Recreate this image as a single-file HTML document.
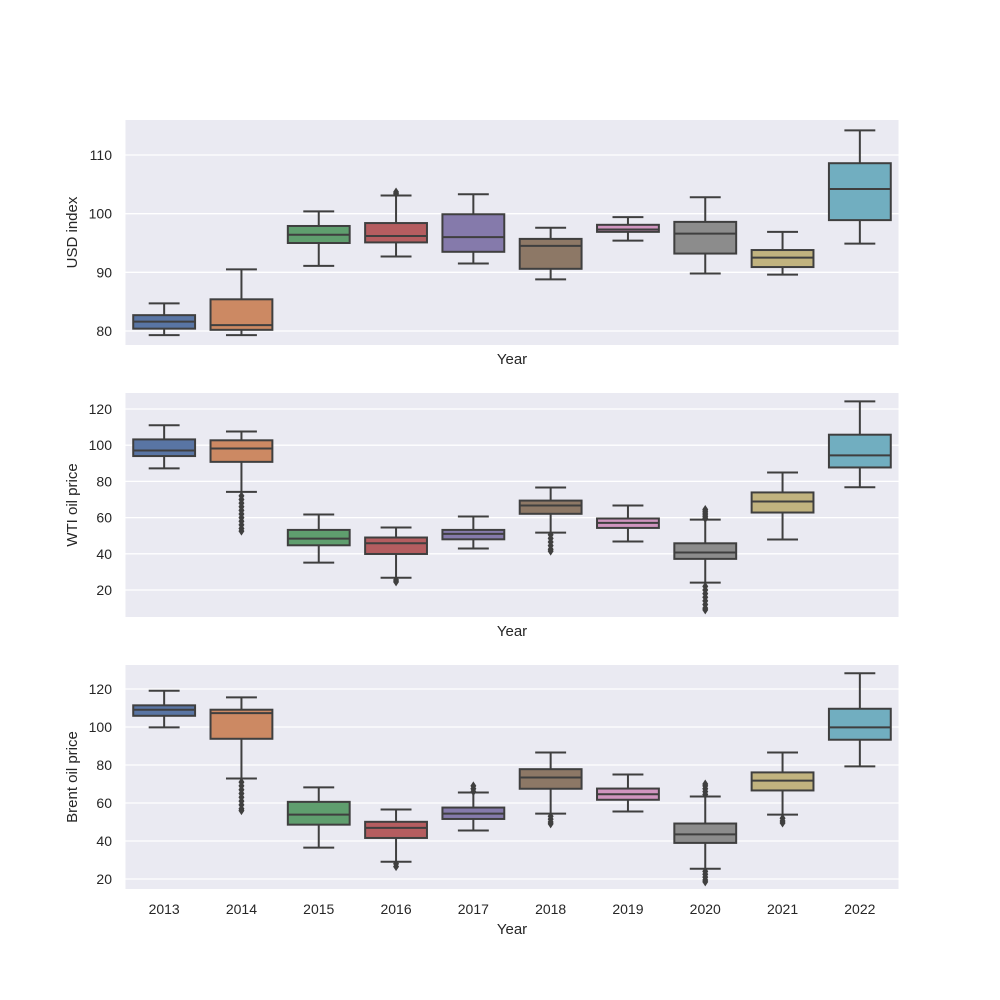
<!DOCTYPE html>
<html><head><meta charset="utf-8"><style>
body{margin:0;background:#fff;}
svg{display:block;font-family:"Liberation Sans",Arial,sans-serif;}
</style></head><body>
<svg id="fig" width="1000" height="1000" viewBox="0 0 1000 1000" xmlns="http://www.w3.org/2000/svg"></svg>
<script>
const categories = ["2013","2014","2015","2016","2017","2018","2019","2020","2021","2022"];
const colors = ["#5975a4","#cc8963","#5f9e6e","#b55d60","#857aab","#8d7866","#d095bf","#8c8c8c","#c1b37f","#71aec0"];
// [low whisker, q1, median, q3, high whisker]
const usdStats = [[79.3,80.4,81.6,82.7,84.7],[79.3,80.2,81.0,85.4,90.5],[91.1,95.0,96.4,97.9,100.4],[92.7,95.1,96.2,98.4,103.1],[91.5,93.5,96.0,99.9,103.3],[88.8,90.6,94.5,95.7,97.6],[95.4,96.9,97.3,98.1,99.4],[89.8,93.2,96.6,98.6,102.8],[89.6,90.9,92.5,93.8,96.9],[94.9,98.9,104.2,108.6,114.2]];
const usdFliers = [[],[],[],[103.4,103.7],[],[],[],[],[],[]];
const wtiStats = [[87.2,94.0,97.1,103.2,111.0],[74.2,90.8,98.2,102.7,107.6],[35.1,44.7,48.4,53.2,61.7],[26.8,39.9,45.8,49.0,54.5],[42.9,48.0,51.0,53.2,60.6],[51.7,62.1,66.7,69.4,76.6],[46.8,54.3,57.1,59.5,66.7],[24.1,37.2,40.7,45.8,58.9],[47.9,62.8,68.9,73.9,84.9],[76.8,87.7,94.4,105.8,124.2]];
const wtiFliers = [[],[72,70,68,66,64,62,60,58,56,54,52.5],[],[25.5,24.5],[],[50.5,48.5,46.5,44.5,42.5,41.5],[],[59.5,60.5,61.5,62.5,63.5,64.5,22,20,18,16,14,12,10,9],[],[]];
const brentStats = [[99.8,105.9,109.1,111.4,119.1],[72.9,93.8,107.3,109.1,115.6],[36.5,48.6,53.9,60.6,68.2],[29.1,41.6,46.9,50.1,56.6],[45.5,51.6,54.4,57.6,65.5],[54.4,67.5,73.4,77.8,86.6],[55.5,61.7,64.6,67.6,75.0],[25.4,39.0,43.5,49.2,63.4],[53.9,66.6,71.8,76.1,86.6],[79.3,93.3,99.8,109.6,128.3]];
const brentFliers = [[],[71,69,67,65,63,61,59,57,56],[],[28,26.5],[66,67.5,69],[53,51.5,50,49],[],[64.5,66,67.5,69,70,24,22.5,21,19.5,18.5],[52,50.5,49.5],[]];
const usdTicks = [80,90,100,110];
const oilTicks = [20,40,60,80,100,120];

const NS="http://www.w3.org/2000/svg";
const svg=document.getElementById('fig');
function mk(tag,attrs,parent){const e=document.createElementNS(NS,tag);for(const k in attrs)e.setAttribute(k,attrs[k]);(parent||svg).appendChild(e);return e;}
const X0=125.5,X1=898.5;
const step=(X1-X0)/categories.length;
function xc(i){return X0+step*(i+0.5);}

function panel(name,top,bottom,vA,yA,vB,yB,ticks,stats,fliers,ylabel,showX){
  const g=mk('g',{});
  
  
  const sy=v=>yA+(v-vA)*(yB-yA)/(vB-vA);
  const bg=mk('rect',{x:X0,y:top,width:X1-X0,height:bottom-top,fill:'#eaeaf2'},g);
  
  
  ticks.forEach(t=>{
    const y=sy(t);
    const l=mk('line',{x1:X0,x2:X1,y1:y,y2:y,stroke:'#fff','stroke-width':1.3},g);
    
    
    const tx=mk('text',{x:112,y:y+5,'text-anchor':'end','font-size':14,fill:'#262626'},g);
    tx.textContent=t;
    
    
  });
  const w=step*0.8;
  stats.forEach((s,i)=>{
    const c=xc(i);
    const bx=mk('g',{},g);
    
    
    const st={stroke:'#3f3f3f','stroke-width':2};
    mk('line',Object.assign({x1:c,x2:c,y1:sy(s[0]),y2:sy(s[1])},st),bx);
    mk('line',Object.assign({x1:c,x2:c,y1:sy(s[3]),y2:sy(s[4])},st),bx);
    mk('line',Object.assign({x1:c-w/4,x2:c+w/4,y1:sy(s[0]),y2:sy(s[0])},st),bx);
    mk('line',Object.assign({x1:c-w/4,x2:c+w/4,y1:sy(s[4]),y2:sy(s[4])},st),bx);
    mk('rect',Object.assign({x:c-w/2,y:sy(s[3]),width:w,height:sy(s[1])-sy(s[3]),fill:colors[i]},st),bx);
    mk('line',Object.assign({x1:c-w/2,x2:c+w/2,y1:sy(s[2]),y2:sy(s[2])},st),bx);
    fliers[i].forEach(f=>{
      const y=sy(f);
      const d=mk('path',{d:`M${c} ${y-4.5}L${c+3} ${y}L${c} ${y+4.5}L${c-3} ${y}Z`,fill:'#3f3f3f'},bx);
      
      
    });
  });
  if(showX){
    categories.forEach((c,i)=>{
      const t=mk('text',{x:xc(i),y:bottom+25,'text-anchor':'middle','font-size':14,fill:'#262626'},g);
      t.textContent=c;
      
      
    });
  }
  const xt=mk('text',{x:(X0+X1)/2,y:showX?bottom+45:bottom+19,'text-anchor':'middle','font-size':15,fill:'#262626'},g);
  xt.textContent='Year';
  
  
  const cy=(top+bottom)/2;
  const yt=mk('text',{x:0,y:0,transform:`translate(77 ${cy}) rotate(-90)`,'text-anchor':'middle','font-size':15,fill:'#262626'},g);
  yt.textContent=ylabel;
  
  
}
panel('usd',120,345,110,155,80,331,usdTicks,usdStats,usdFliers,'USD index',false);
panel('wti',393,617,120,409,20,590,oilTicks,wtiStats,wtiFliers,'WTI oil price',false);
panel('brent',665,889,120,689,20,879,oilTicks,brentStats,brentFliers,'Brent oil price',true);
</script>
</body></html>
